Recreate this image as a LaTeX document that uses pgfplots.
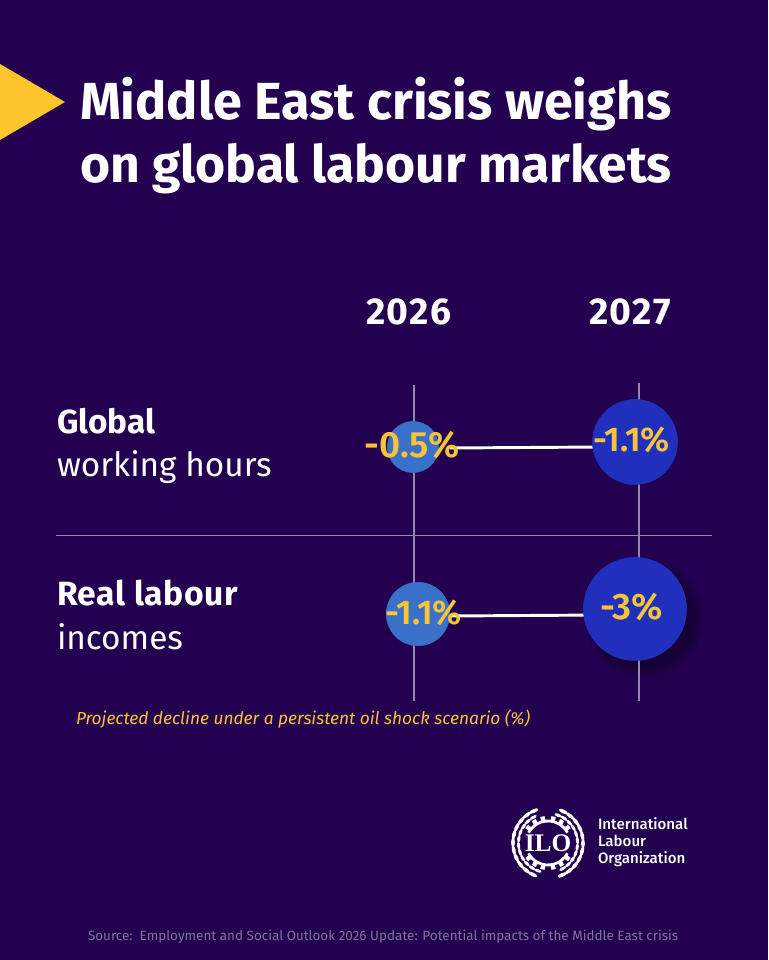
\documentclass[border=0pt]{standalone}
\usepackage{pgfplots}
\pgfplotsset{compat=1.18}
\usepackage{fontspec}
\setmainfont{Fira Sans}
\newfontfamily\semi{Fira Sans SemiBold}
\newfontfamily\medium{Fira Sans Medium}
\newfontfamily\logoserif{Liberation Serif}
\definecolor{bg}{HTML}{230050}
\definecolor{gold}{HTML}{F6C437}
\definecolor{tri}{HTML}{FCC52C}
\definecolor{lightblue}{HTML}{3A70C9}
\definecolor{darkblue}{HTML}{2130BC}
\definecolor{rule}{HTML}{9386B4}
\definecolor{srcgrey}{HTML}{7C7699}
\newcommand{\fs}[1]{\fontsize{#1}{#1}\selectfont}
\tikzset{px/.style={shift={(0,720pt)},x=0.75pt,y=-0.75pt},
 t/.style={inner sep=0pt,outer sep=0pt,anchor=base west,text=white},
 c/.style={inner sep=0pt,outer sep=0pt,anchor=base,text=gold}}
\begin{document}
\begin{tikzpicture}
\clip (0,0) rectangle (576pt,720pt);
\fill[bg] (0,0) rectangle (576pt,720pt);
\begin{scope}[px]
\fill[tri] (0,64) -- (65,102) -- (0,140) -- cycle;
% soft shadow of the largest bubble
\foreach \r in {60,58,56,54,52,50}{\fill[black,opacity=0.06] (644,618) circle (\r);}
\end{scope}
\begin{axis}[at={(0,0)},anchor=south west,scale only axis,width=576pt,height=720pt,
  xmin=0,xmax=768,ymin=0,ymax=960,y dir=reverse,hide axis,clip=false]
% grid rules
\addplot[rule,line width=0.8pt,forget plot] coordinates {(414,385) (414,701)};
\addplot[rule,line width=0.8pt,forget plot] coordinates {(639,383) (639,701)};
\addplot[rule,line width=0.7pt,forget plot] coordinates {(56,535) (712,535)};
% connectors
\addplot[white,line width=2.2pt,forget plot] coordinates {(450,448) (600,447)};
\addplot[white,line width=2.2pt,forget plot] coordinates {(450,616) (600,615)};
% bubbles: global working hours -0.5 (2026), -1.1 (2027); real labour incomes -1.1 (2026), -3 (2027)
\addplot[only marks,mark=*,mark size=19.2pt,mark options={line width=0.4pt,draw=lightblue,fill=lightblue}] coordinates {(413,447)};
\addplot[only marks,mark=*,mark size=31.9pt,mark options={line width=0.4pt,draw=darkblue,fill=darkblue}] coordinates {(635,442)};
\addplot[only marks,mark=*,mark size=23.8pt,mark options={line width=0.4pt,draw=lightblue,fill=lightblue}] coordinates {(418,614)};
\addplot[only marks,mark=*,mark size=38.7pt,mark options={line width=0.4pt,draw=darkblue,fill=darkblue}] coordinates {(635,609)};
\end{axis}
\begin{scope}[px]
\node[t] at (80,120) {\fs{39.1}\bfseries Middle East crisis weighs};
\node[t] at (80,183) {\fs{38.7}\bfseries on global labour markets};
\node[t,anchor=base] at (409,325) {\fs{28}\bfseries\addfontfeature{LetterSpace=4}2026};
\node[t,anchor=base] at (630,325) {\fs{28}\bfseries\addfontfeature{LetterSpace=4}2027};
\node[t] at (57,434) {\fs{25}\bfseries Global};
\node[t] at (57,477) {\fs{25}working hours};
\node[t] at (57,606) {\fs{25.2}\bfseries\addfontfeature{LetterSpace=2}Real labour};
\node[t] at (57,650) {\fs{25}incomes};
\node[c] at (412,458) {\semi\fs{27.4}-0.5\%};
\node[c] at (631.5,452) {\semi\fs{25.7}-1.1\%};
\node[c] at (423.5,625) {\semi\fs{25.7}-1.1\%};
\node[c] at (631.5,620) {\semi\fs{27.6}-3\%};
\node[t,text=gold] at (76,725) {\fs{13}\itshape Projected decline under a persistent oil shock scenario (\%)};
\node[t,text=srcgrey] at (88,941) {\fs{10.1}Source:\ \ Employment and Social Outlook 2026 Update: Potential impacts of the Middle East crisis};
\node[t] at (598,830) {\medium\fs{11.3}International};
\node[t] at (598,847) {\medium\fs{11.3}Labour};
\node[t] at (598,864) {\medium\fs{11.3}Organization};
% ILO emblem
\begin{scope}[shift={(548,843)}]
\foreach \a in {-66,-53,...,66,114,127,...,246}{
  \fill[white,rotate=\a] (35,0) ellipse (1.9 and 5);
  \fill[white,rotate=\a+6] (29.5,0) ellipse (1.6 and 3.8);
}
\draw[white,line width=2.1pt] (28:22) arc (28:152:22);
\draw[white,line width=2.1pt] (208:22) arc (208:332:22);
\foreach \a in {38,58,78,102,122,142,218,238,258,282,302,322}{
  \fill[white,rotate=\a] (22,-2.2) rectangle (27,2.2);
}
\node[text=white,inner sep=0] at (0,0) {\logoserif\bfseries\fs{19}ILO};
\end{scope}
\end{scope}
\end{tikzpicture}
\end{document}
